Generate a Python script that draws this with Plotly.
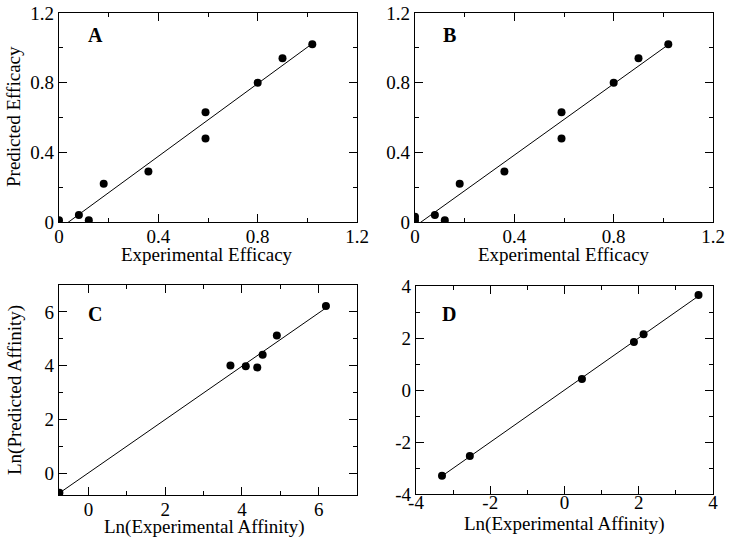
import numpy as np
import plotly.graph_objects as go

# Panel A
a_x = [0.00, 0.08, 0.12, 0.18, 0.36, 0.59, 0.59, 0.80, 0.90, 1.02]
a_y = [0.01, 0.04, 0.01, 0.22, 0.29, 0.63, 0.48, 0.80, 0.94, 1.02]
# Panel B
b_x = [0.00, 0.00, 0.08, 0.12, 0.18, 0.36, 0.59, 0.59, 0.80, 0.90, 1.02]
b_y = [0.03, 0.01, 0.04, 0.01, 0.22, 0.29, 0.63, 0.48, 0.80, 0.94, 1.02]
# Panel C
c_x = [-0.76, 3.70, 4.10, 4.40, 4.54, 4.91, 6.19]
c_y = [-0.72, 4.01, 3.98, 3.94, 4.41, 5.12, 6.22]
# Panel D
d_x = [-3.30, -2.55, 0.47, 1.87, 2.13, 3.61]
d_y = [-3.30, -2.54, 0.42, 1.85, 2.14, 3.65]

eff_ticks = [0, 0.4, 0.8, 1.2]
eff_labels = ["0", "0.4", "0.8", "1.2"]
c_ticks = [0, 2, 4, 6]
d_ticks = [-4, -2, 0, 2, 4]

FONT = "Liberation Serif"
W, H = 729, 542


def px_x(v):
    return v / W


def px_y(v):
    return 1 - v / H


panels = [
    dict(name="A", x=a_x, y=a_y, px=(59, 357), py=(13, 222),
         xr=[0, 1.2], yr=[0, 1.2], xt=eff_ticks, xl=eff_labels, yt=eff_ticks, yl=eff_labels,
         xminor=0.2, yminor=0.2, lab=(95, 35), xso=-3),
    dict(name="B", x=b_x, y=b_y, px=(415, 713), py=(13, 222),
         xr=[0, 1.2], yr=[0, 1.2], xt=eff_ticks, xl=eff_labels, yt=eff_ticks, yl=eff_labels,
         xminor=0.2, yminor=0.2, lab=(449, 35), xso=-3),
    dict(name="C", x=c_x, y=c_y, px=(59, 357), py=(285, 495),
         xr=[-0.77, 7], yr=[-0.8, 7], xt=c_ticks, xl=[str(v) for v in c_ticks],
         yt=c_ticks, yl=[str(v) for v in c_ticks],
         xminor=1, yminor=1, lab=(95, 314), xso=-3),
    dict(name="D", x=d_x, y=d_y, px=(416, 713), py=(286, 494),
         xr=[-4, 4], yr=[-4, 4], xt=d_ticks, xl=[str(v) for v in d_ticks],
         yt=d_ticks, yl=[str(v) for v in d_ticks],
         xminor=1, yminor=1, lab=(449, 314), xso=-9),
]

titles = [
    ("Experimental Efficacy", 207, 255, 0),
    ("Experimental Efficacy", 564, 255, 0),
    ("Ln(Experimental Affinity)", 204, 527, 0),
    ("Ln(Experimental Affinity)", 564, 524, 0),
    ("Predicted Efficacy", 14, 117, -90),
    ("Ln(Predicted Affinity)", 15, 390, -90),
]

fig = go.Figure()
layout = {}
annotations = []
for i, p in enumerate(panels, start=1):
    xa = "x" if i == 1 else f"x{i}"
    ya = "y" if i == 1 else f"y{i}"
    xs = np.array(p["x"]); ys = np.array(p["y"])
    slope, icpt = np.polyfit(xs, ys, 1)
    lx = np.array([xs.min(), xs.max()])
    ly = icpt + slope * lx
    fig.add_trace(go.Scatter(x=lx, y=ly, mode="lines", line=dict(color="black", width=1),
                             xaxis=xa, yaxis=ya, showlegend=False, hoverinfo="skip"))
    fig.add_trace(go.Scatter(x=xs, y=ys, mode="markers", marker=dict(color="black", size=8),
                             xaxis=xa, yaxis=ya, showlegend=False, cliponaxis=True))
    xkey = "xaxis" if i == 1 else f"xaxis{i}"
    ykey = "yaxis" if i == 1 else f"yaxis{i}"
    common = dict(showline=True, linecolor="black", linewidth=1.2, mirror="ticks",
                  ticks="inside", ticklen=8, tickcolor="black", tickwidth=1,
                  showgrid=False, zeroline=False, automargin=False,
                  ticklabeloverflow="allow",
                  tickfont=dict(family=FONT, size=19, color="black"))
    layout[xkey] = dict(common, domain=[px_x(p["px"][0]), px_x(p["px"][1])], range=p["xr"],
                        tickvals=p["xt"], ticktext=p["xl"], anchor=ya,
                        ticklabelstandoff=p["xso"],
                        minor=dict(ticks="inside", ticklen=4, dtick=p["xminor"], tickcolor="black"))
    layout[ykey] = dict(common, domain=[px_y(p["py"][1]), px_y(p["py"][0])], range=p["yr"],
                        tickvals=p["yt"], ticktext=p["yl"], anchor=xa,
                        minor=dict(ticks="inside", ticklen=4, dtick=p["yminor"], tickcolor="black"))
    annotations.append(dict(text=f"<b>{p['name']}</b>", xref="paper", yref="paper",
                            x=px_x(p["lab"][0]), y=px_y(p["lab"][1]),
                            xanchor="center", yanchor="middle", showarrow=False,
                            font=dict(family=FONT, size=20, color="black")))

for text, tx, ty, ang in titles:
    annotations.append(dict(text=text, xref="paper", yref="paper",
                            x=px_x(tx), y=px_y(ty), xanchor="center", yanchor="middle",
                            textangle=ang, showarrow=False,
                            font=dict(family=FONT, size=19, color="black")))

fig.update_layout(width=W, height=H, margin=dict(l=0, r=0, t=0, b=0),
                  paper_bgcolor="white", plot_bgcolor="white",
                  annotations=annotations, **layout)
fig.write_html("out.html", config={"displayModeBar": False},
               post_script="document.body.style.margin='0px';")
